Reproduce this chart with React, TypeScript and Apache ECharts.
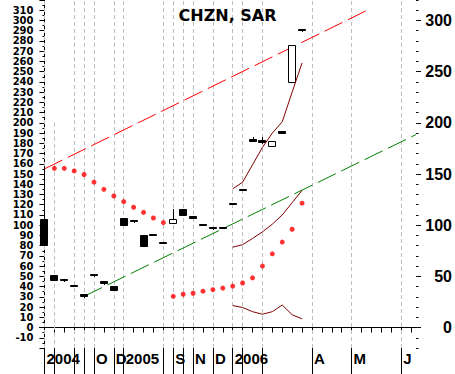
import React, { useEffect, useRef } from "react";
import * as echarts from "echarts";

// ---- x axis (weekly slots) ----
const xLabels = [
  "2004", "", "", "", "", "O", "", "D", "2005", "", "", "", "", "S", "", "N", "", "D", "", "2006",
  "", "", "", "", "", "", "", "A", "", "", "", "M", "", "", "", "", "J", "",
];
const monthTicks = [0, 1, 3, 4, 5, 7, 8, 12, 13, 14, 15, 17, 19, 20, 22, 27, 31, 36];
const fullGridlines = [0, 3, 4, 5, 7, 8, 12, 13, 14, 15, 17, 19, 20, 22, 27, 31, 36];
const partialGridline = { index: 1, from: 200 };

// ---- price bars ----
const opens = [106, 51, 47, 42, 33, 52.5, 45, 41, 107, 105.5, 90.5, 91.5, 84, 102.5, 116, 108.5, 101.5, 98, 98, 122, 135.5, 184, 183, 177, 192, 240, 292];
const closes = [81, 46.5, 46, 41, 31, 51, 43.5, 37, 100.5, 104.5, 80, 90.5, 82.5, 106, 109.5, 107.5, 100, 97, 97, 121, 134, 182, 181, 182, 190.5, 276, 291];
const lows = [81, 46, 45, 40.5, 30, 50.5, 42.5, 37, 100.5, 103.5, 80, 90, 82.5, 102.5, 109.5, 107, 100, 96, 97, 121, 134, 182, 180, 177, 190, 240, 290];
const highs = [155, 51, 47, 42, 33, 52.5, 45, 41, 107, 105.5, 90.5, 91.5, 84, 116, 116, 108.5, 101.5, 98, 98, 122, 135.5, 186, 186, 182, 192.5, 276, 292];

// ---- Parabolic SAR ----
const sarStart = 1;
const sarValues = [155.5, 155.5, 153, 149.5, 142, 135, 128.5, 123, 117.5, 112.5, 107, 102.5, 30.5, 32.5, 33.5, 35.5, 37, 38.5, 40.5, 43.5, 48.5, 60, 72, 83.5, 96, 121.5];

// ---- bands ----
const bandStart = 19;
const bandUpper = [135.5, 142, 159, 176, 190, 201, 230, 258.5];
const bandMiddle = [78.5, 81, 87, 93.5, 101, 110, 122, 134];
const bandLower = [21.5, 19.5, 15.5, 13, 15.5, 22, 12.5, 8.5];

// ---- trend lines [slot, value] ----
const redTrend = [[0, 155], [32.9, 311.5]];
const greenTrend = [[4, 30.5], [37.5, 188.5]];

// ---- y axes ----
const yMin = -20;
const yMax = 320;
const leftLabelMin = -10;
const leftLabelMax = 310;
const rightLabels = [0, 50, 100, 150, 200, 250, 300];

function fontAvailable(name: string): boolean {
  try {
    const ctx = document.createElement("canvas").getContext("2d");
    if (!ctx) return false;
    ctx.font = "bold 20px monospace";
    const a = ctx.measureText("2004 OD SNJ").width;
    ctx.font = `bold 20px "${name}", monospace`;
    const b = ctx.measureText("2004 OD SNJ").width;
    return Math.abs(a - b) > 0.5;
  } catch (e) {
    return false;
  }
}

export default function App() {
  const ref = useRef<HTMLDivElement>(null);

  useEffect(() => {
    if (!ref.current) return;
    const chart = echarts.init(ref.current, undefined, { renderer: "svg" });

    const narrow = fontAvailable("Liberation Sans Narrow");
    const xFont = narrow
      ? { fontFamily: '"Liberation Sans Narrow", sans-serif', fontSize: 20 }
      : { fontFamily: '"Liberation Sans", Arial, sans-serif', fontSize: 15 };

    const cats = xLabels.map((_, i) => String(i));
    const yCats: string[] = [];
    for (let v = yMin; v <= yMax; v += 10) yCats.push(String(v));
    const isRightMajor = (_i: number, v: string) => rightLabels.includes(Number(v));

    const candleData = opens.map((o, i) => [i, o, closes[i], lows[i], highs[i]]);
    const sarData = sarValues.map((v, i) => [sarStart + i, v]);
    const band = (arr: number[]) => arr.map((v, i) => [bandStart + i, v]);

    const renderCandle = (_params: any, api: any) => {
      const k = api.value(0);
      const o = api.value(1);
      const c = api.value(2);
      const pO = api.coord([k, o]);
      const pC = api.coord([k, c]);
      const pL = api.coord([k, api.value(3)]);
      const pH = api.coord([k, api.value(4)]);
      const cx = Math.round(pO[0]);
      const top = Math.round(Math.min(pO[1], pC[1])) + 0.5;
      const bot = Math.round(Math.max(pO[1], pC[1])) + 0.5;
      const down = c < o;
      return {
        type: "group",
        children: [
          {
            type: "line",
            shape: { x1: cx + 0.5, y1: Math.round(pH[1]), x2: cx + 0.5, y2: Math.round(pL[1]) + 1 },
            style: { stroke: "#000", lineWidth: 1 },
          },
          {
            type: "rect",
            shape: { x: cx - 3.5, y: top, width: 7, height: Math.max(bot - top, 1) },
            style: { fill: down ? "#000" : "#fff", stroke: "#000", lineWidth: 1 },
          },
        ],
      };
    };

    const option: any = {
      animation: false,
      backgroundColor: "#ffffff",
      title: {
        text: "CHZN, SAR",
        left: "center",
        top: 2,
        textStyle: { fontFamily: "DejaVu Sans", fontWeight: "bold", fontSize: 16, color: "#000" },
      },
      grid: { left: 39.5, right: 38, top: -1, bottom: 26, containLabel: false },
      xAxis: [
        {
          type: "category",
          data: cats,
          position: "bottom",
          boundaryGap: true,
          axisLine: { show: true, lineStyle: { color: "#000", width: 1 } },
          axisTick: { show: true, interval: 0, alignWithLabel: true, length: 5, lineStyle: { color: "#000" } },
          axisLabel: {
            interval: 0,
            formatter: (_v: string, i: number) => xLabels[i],
            align: "left",
            verticalAlign: "top",
            margin: 3,
            padding: [0, 0, 0, 2],
            fontWeight: "bold",
            color: "#000",
            ...xFont,
          },
          splitLine: { show: false },
        },
        {
          type: "category",
          data: cats,
          position: "bottom",
          boundaryGap: true,
          axisLine: { show: false },
          axisTick: {
            show: true,
            interval: (i: number) => monthTicks.includes(i),
            alignWithLabel: true,
            length: 26,
            lineStyle: { color: "#000" },
          },
          axisLabel: { show: false },
          splitLine: { show: false },
        },
        { type: "value", min: -0.5, max: xLabels.length - 0.5, show: false },
      ],
      yAxis: [
        {
          type: "value",
          min: yMin,
          max: yMax,
          interval: 10,
          position: "left",
          axisLine: { show: true, lineStyle: { color: "#000" } },
          axisTick: { show: true, length: 5, lineStyle: { color: "#000" } },
          minorTick: { show: true, splitNumber: 2, length: 2, lineStyle: { color: "#000" } },
          axisLabel: {
            formatter: (v: number) => (v < leftLabelMin || v > leftLabelMax ? "" : String(v)),
            fontFamily: '"DejaVu Sans", sans-serif',
            fontWeight: "bold",
            fontSize: 10,
            lineHeight: 10,
            color: "#000",
            margin: 6,
          },
          splitLine: { show: false },
        },
        {
          type: "category",
          data: yCats,
          boundaryGap: false,
          position: "right",
          axisLine: { show: false },
          axisTick: { show: true, interval: 0, length: 2.5, lineStyle: { color: "#000" } },
          axisLabel: { show: false },
          splitLine: { show: false },
        },
        {
          type: "category",
          data: yCats,
          boundaryGap: false,
          position: "right",
          axisLine: { show: false },
          axisTick: { show: true, interval: isRightMajor, length: 5, lineStyle: { color: "#000" } },
          axisLabel: {
            interval: isRightMajor,
            formatter: (v: string) => v,
            align: "right",
            margin: 36,
            fontFamily: '"Liberation Sans", Arial, sans-serif',
            fontWeight: "bold",
            fontSize: 16,
            color: "#000",
          },
          splitLine: { show: false },
        },
      ],
      series: [
        {
          type: "line",
          name: "green",
          xAxisIndex: 2,
          yAxisIndex: 0,
          data: greenTrend,
          showSymbol: false,
          silent: true,
          z: 3,
          lineStyle: { color: "#008000", width: 1, type: [20, 6] },
          markLine: {
            silent: true,
            z: 1,
            symbol: ["none", "none"],
            label: { show: false },
            lineStyle: { color: "#bdbdbd", width: 1, type: [4, 3] },
            data: [
              ...fullGridlines.map((k) => ({ xAxis: k })),
              [
                { coord: [partialGridline.index, partialGridline.from] },
                { coord: [partialGridline.index, yMin] },
              ],
            ],
          },
        },
        {
          type: "line",
          name: "red",
          xAxisIndex: 2,
          yAxisIndex: 0,
          data: redTrend,
          showSymbol: false,
          silent: true,
          z: 3,
          lineStyle: { color: "#ff0000", width: 1, type: [20, 6] },
        },
        {
          type: "custom",
          xAxisIndex: 0,
          yAxisIndex: 0,
          data: candleData,
          encode: { x: 0, y: [1, 2, 3, 4] },
          renderItem: renderCandle,
          silent: true,
          z: 4,
        },
        {
          type: "scatter",
          xAxisIndex: 2,
          yAxisIndex: 0,
          data: sarData,
          symbol: "circle",
          symbolSize: 5,
          silent: true,
          z: 5,
          itemStyle: { color: "#ff0000" },
        },
        ...[bandUpper, bandMiddle, bandLower].map((arr) => ({
          type: "line",
          xAxisIndex: 2,
          yAxisIndex: 0,
          data: band(arr),
          showSymbol: false,
          silent: true,
          z: 5,
          lineStyle: { color: "#800000", width: 1 },
        })),
      ],
    };

    chart.setOption(option);
    return () => chart.dispose();
  }, []);

  return (
    <div
      ref={ref}
      style={{ position: "absolute", left: 0, top: 0, width: 455, height: 374, background: "#fff" }}
    />
  );
}
